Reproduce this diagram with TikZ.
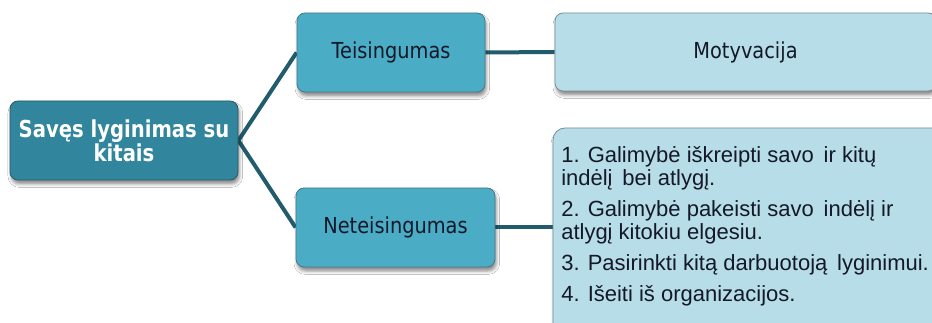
\documentclass[tikz,border=0pt]{standalone}
\usepackage{fontspec}
\setmainfont{Liberation Sans}
\newfontfamily\hfont[FakeStretch=0.88]{DejaVu Sans}
\newfontfamily\rfont[FakeStretch=0.84]{DejaVu Sans}
\usetikzlibrary{shadows.blur,backgrounds}
\definecolor{rootfill}{RGB}{49,133,156}
\definecolor{rootdraw}{RGB}{44,88,102}
\definecolor{midfill}{RGB}{75,172,198}
\definecolor{middraw}{RGB}{70,120,135}
\definecolor{lightfill}{RGB}{183,222,232}
\definecolor{lightdraw}{RGB}{120,140,148}
\definecolor{conn}{RGB}{33,92,108}
\definecolor{darktext}{RGB}{20,24,40}
\tikzset{
  boxbase/.style={rectangle, rounded corners=6pt, line width=0.6pt, inner sep=0pt, align=center,
    blur shadow={shadow xshift=1pt, shadow yshift=-3pt, shadow blur radius=2.5pt, shadow opacity=45}},
  rootbox/.style={boxbase, fill=rootfill, draw=rootdraw, text=white,
    font=\rfont\bfseries\fontsize{17.5}{17}\selectfont},
  midbox/.style={boxbase, fill=midfill, draw=middraw, text=darktext,
    font=\hfont\fontsize{16.5}{17}\selectfont},
  lightbox/.style={boxbase, fill=lightfill, draw=lightdraw, text=darktext,
    font=\hfont\fontsize{16.5}{17}\selectfont},
  listtext/.style={inner sep=0pt, align=left, anchor=north west, text=darktext,
    font=\fontsize{16.5}{17.25}\selectfont},
  connector/.style={draw=conn, line width=3pt}
}
\begin{document}
\begin{tikzpicture}[x=0.75pt, y=-0.75pt]
\useasboundingbox (0,0) rectangle (932,323);
\clip (0,0) rectangle (932,323);

\node[rootbox, minimum width=171pt, minimum height=59.25pt] (root) at (124,140.5)
  {Savęs lyginimas su\\kitais};
\node[midbox, minimum width=141pt, minimum height=59.25pt] (teis) at (391,52.5) {Teisingumas};
\node[midbox, minimum width=149.25pt, minimum height=59.25pt] (neteis) at (395.5,227.5) {Neteisingumas};
\node[lightbox, minimum width=285.75pt, minimum height=58.5pt] (motyv) at (745.5,52) {Motyvacija};
\node[lightbox, rounded corners=9pt, minimum width=294pt, minimum height=155.25pt] (list) at (749,231.5) {};
\node[listtext] (listtxt) at (561,146.5)
  {1. Galimybė iškreipti savo\, ir kitų\\
   indėlį\, bei atlygį.\\[5.6pt]
   2. Galimybė pakeisti savo\, indėlį ir\\
   atlygį kitokiu elgesiu.\\[6pt]
   3. Pasirinkti kitą darbuotoją\, lyginimui.\\[6.5pt]
   4. Išeiti iš organizacijos.};

\begin{scope}[on background layer]
\fill[white] (0,0) rectangle (932,323);
\draw[connector] (root.east) -- (teis.west);
\draw[connector] (root.east) -- (neteis.west);
\draw[connector] (teis.east) -- (motyv.west);
\draw[connector] (neteis.east) -- (neteis.east -| list.west);
\end{scope}
\end{tikzpicture}
\end{document}
